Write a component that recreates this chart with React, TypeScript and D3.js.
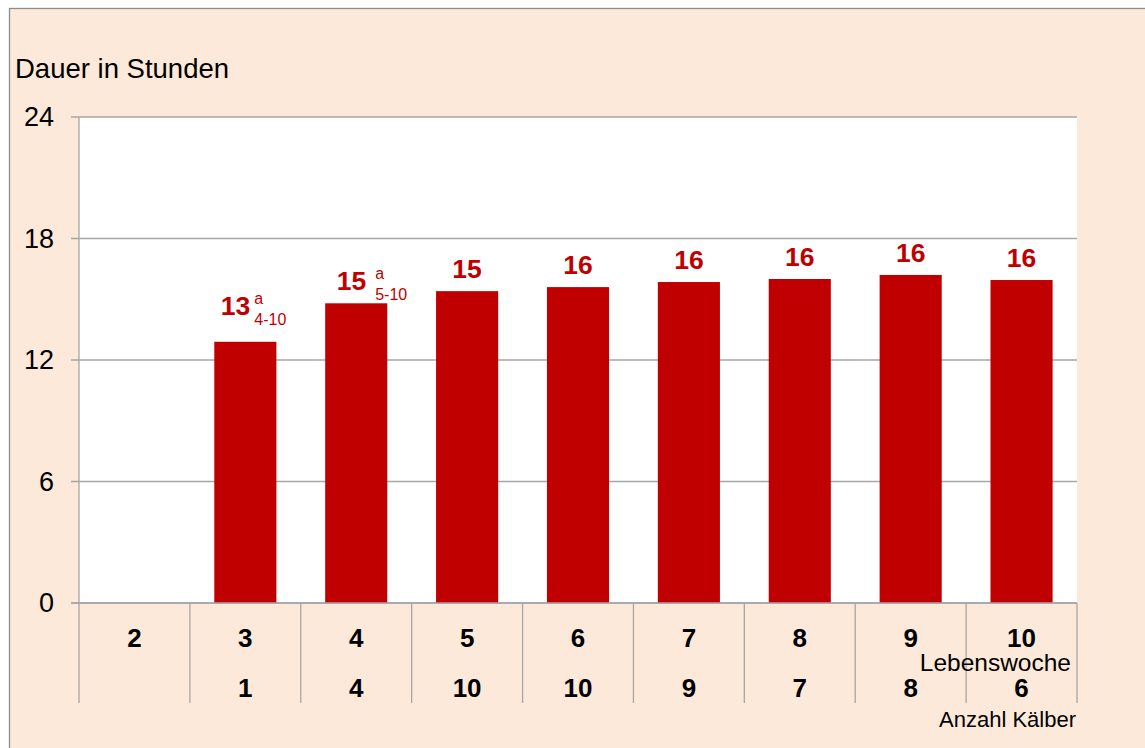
import * as d3 from 'd3';

// Lebenswoche categories and values
const weeks = ['2', '3', '4', '5', '6', '7', '8', '9', '10'];
const hours: (number | null)[] = [null, 12.9, 14.8, 15.4, 15.6, 15.85, 16.0, 16.2, 15.95];
const labelMain = ['', '13', '15', '15', '16', '16', '16', '16', '16'];
const labelSup = ['', 'a', 'a', '', '', '', '', '', ''];
const labelSub = ['', '4-10', '5-10', '', '', '', '', '', ''];
const calves = ['', '1', '4', '10', '10', '9', '7', '8', '6'];
const yTicks = [0, 6, 12, 18, 24];

const W = 1145;
const H = 748;
const plot = { left: 79, right: 1077, top: 117, bottom: 603 };
const font = '"Liberation Sans", Arial, sans-serif';
const red = '#C00000';
const grid = '#A6A6A6';

const App = () => {
    const y = d3.scaleLinear().domain([0, 24]).range([plot.bottom, plot.top]);
    const col = d3.scaleBand<string>().domain(weeks).range([plot.left, plot.right]).padding(0);
    const x = d3.scaleBand<string>().domain(weeks).range([plot.left, plot.right])
        .paddingInner(0.44).paddingOuter(0.22);

    // small per-label nudges to mimic how the labels with indices sit
    const lift = (i: number) => (i === 1 ? 14 : 0);
    const mainDx = (i: number) => (i === 1 ? 5 : 10);
    const sufDx = (i: number) => (i === 1 ? 9 : 19);

    return (
        <svg width={W} height={H} style={{ position: 'absolute', left: 0, top: 0 }}>
            <rect x={9.5} y={8.5} width={W + 20} height={H + 20} fill="#FDE9D9" stroke="#8C8C8C" strokeWidth={1.3} />
            <rect x={plot.left} y={plot.top} width={plot.right - plot.left} height={plot.bottom - plot.top} fill="#fff" />

            <text x={15} y={78} fontFamily={font} fontSize={27.5} fill="#000">Dauer in Stunden</text>

            {yTicks.map(t => (
                <g key={t}>
                    <line x1={71} x2={plot.right} y1={y(t)} y2={y(t)} stroke={grid} strokeWidth={1.3} />
                    <text x={54} y={y(t)} dy="0.35em" textAnchor="end" fontFamily={font} fontSize={27} fill="#000">{t}</text>
                </g>
            ))}
            <line x1={plot.left} x2={plot.left} y1={plot.top} y2={plot.bottom} stroke={grid} strokeWidth={1.3} />

            {weeks.map((w, i) => {
                const v = hours[i];
                if (v == null) return null;
                const bx = x(w)!;
                const bw = x.bandwidth();
                const cx = bx + bw / 2;
                const top = y(v);
                const base = top - 13 - lift(i);
                return (
                    <g key={w}>
                        <rect x={bx} y={top} width={bw} height={plot.bottom - top} fill={red} />
                        {labelSup[i] || labelSub[i] ? (
                            <>
                                <text x={cx + mainDx(i)} y={base} textAnchor="end" fontFamily={font} fontSize={26.5} fontWeight="bold" fill={red}>{labelMain[i]}</text>
                                <text x={cx + sufDx(i)} y={base - 11} fontFamily={font} fontSize={16} fill={red}>{labelSup[i]}</text>
                                <text x={cx + sufDx(i)} y={base + 10} fontFamily={font} fontSize={16} fill={red}>{labelSub[i]}</text>
                            </>
                        ) : (
                            <text x={cx} y={base} textAnchor="middle" fontFamily={font} fontSize={26.5} fontWeight="bold" fill={red}>{labelMain[i]}</text>
                        )}
                    </g>
                );
            })}

            {/* category table below the axis */}
            {weeks.map((w, i) => {
                const cx = col(w)! + col.bandwidth() / 2;
                return (
                    <g key={'c' + w}>
                        <text x={cx} y={647} textAnchor="middle" fontFamily={font} fontSize={26} fontWeight="bold">{w}</text>
                        <text x={cx} y={697} textAnchor="middle" fontFamily={font} fontSize={26} fontWeight="bold">{calves[i]}</text>
                    </g>
                );
            })}
            {[...weeks.map(w => col(w)!), plot.right].map((bx, i) => (
                <line key={'d' + i} x1={bx} x2={bx} y1={plot.bottom} y2={703} stroke={grid} strokeWidth={1.3} />
            ))}
            <line x1={71} x2={plot.right} y1={plot.bottom} y2={plot.bottom} stroke={grid} strokeWidth={1.3} />

            <text x={1071} y={671} textAnchor="end" fontFamily={font} fontSize={24.5}>Lebenswoche</text>
            <text x={1076} y={727} textAnchor="end" fontFamily={font} fontSize={22}>Anzahl Kälber</text>
        </svg>
    );
};

export default App;
